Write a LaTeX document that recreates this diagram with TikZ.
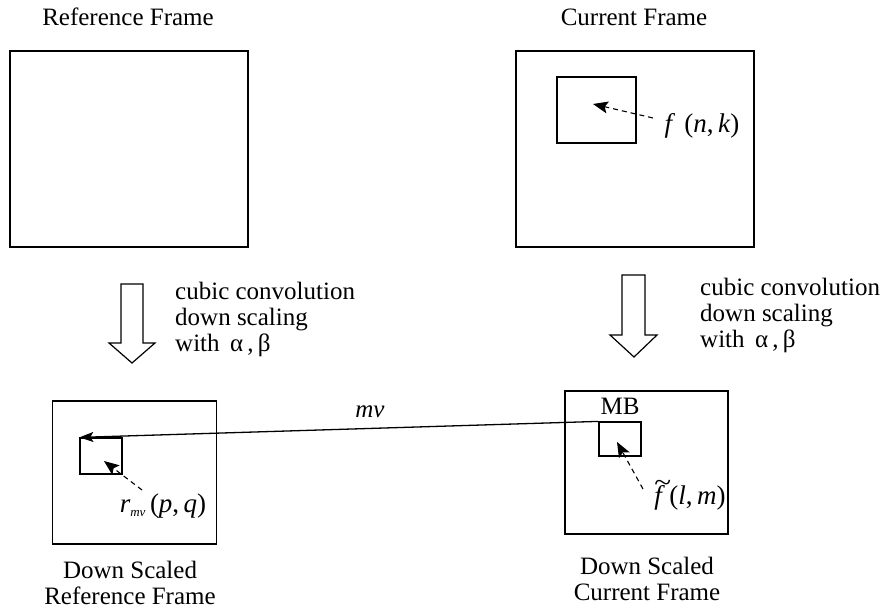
\documentclass[tikz,border=0pt]{standalone}
\usepackage{fontspec}
\setmainfont{Liberation Serif}
\usetikzlibrary{arrows.meta}
\newcommand\tildedf{\rlap{\raisebox{0.47em}[0pt][0pt]{\kern0.0em\scalebox{1.15}[1]{\textasciitilde}}}\textit{f}}
\tikzset{
  frame/.style={draw, line width=1.2pt, inner sep=0pt, rectangle},
  lbl/.style={inner sep=0pt, font=\fontsize{25}{26}\selectfont},
  mlbl/.style={inner sep=0pt, font=\fontsize{27}{28}\selectfont},
  dashedarrow/.style={line width=1.1pt, dash pattern=on 5pt off 4pt, -{Stealth[length=15pt,width=12pt,inset=3pt]}},
  hollow/.style={draw, line width=1.2pt, fill=white, line join=miter},
}
\begin{document}
\begin{tikzpicture}[x=1pt,y=-1pt]
\useasboundingbox (0,0) rectangle (883,609);
% titles
\node[lbl] (tRF) at (128,17) {Reference Frame};
\node[lbl] (tCF) at (634,17) {Current Frame};
% top frames
\node[frame, minimum width=238pt, minimum height=196pt] (RF) at (129,149) {};
\node[frame, minimum width=238pt, minimum height=196pt] (CF) at (635,149) {};
\node[frame, minimum width=79pt, minimum height=66pt] (CB) at (596.5,110) {};
\node[mlbl] (fnk) at (702,126) {\textit{f}\,\,(\textit{n},\,\textit{k})};
\coordinate (fnkT) at (593,104);
\coordinate (fnkS) at (653,118);
\draw[dashedarrow] (fnkS) -- (fnkT);
% hollow arrows
\draw[hollow] (121,284) -- (143,284) -- (143,343) -- (155,343) -- (132,363) -- (109,343) -- (121,343) -- cycle;
\draw[hollow] (622,275) -- (645,275) -- (645,335) -- (657,335) -- (634,357) -- (610,335) -- (622,335) -- cycle;
% side texts
\node[lbl, anchor=west, align=left] (tL) at (175,319) {cubic convolution\\down scaling\\with \,α\,,\,β};
\node[lbl, anchor=west, align=left] (tR) at (700,315) {cubic convolution\\down scaling\\with \,α\,,\,β};
% down scaled frames
\node[frame, minimum width=164pt, minimum height=143pt] (DR) at (134.5,472.5) {};
\node[frame, minimum width=42pt, minimum height=36pt] (DRB) at (101,456) {};
\node[frame, minimum width=163pt, minimum height=143pt] (DC) at (646.5,462.5) {};
\node[frame, minimum width=42pt, minimum height=34pt] (DCB) at (620,439) {};
\node[lbl] (MB) at (620,406) {MB};
% labels inside
\node[mlbl] (rmv) at (163,506) {\textit{r}\raisebox{-0.35ex}{\fontsize{13}{13}\selectfont\itshape mv}\,(\textit{p},\,\textit{q})};
\node[mlbl] (flm) at (690,498) {\tildedf\,(\textit{l},\,\textit{m})};
\coordinate (rT) at (104,461);
\coordinate (fT) at (617,442);
\coordinate (rS) at (142,490);
\coordinate (fS) at (643,489);
\draw[dashedarrow] (rS) -- (rT);
\draw[dashedarrow] (fS) -- (fT);
% motion vector
\draw[line width=1.3pt, -{Stealth[length=14pt,width=10pt,inset=3pt]}] (DCB.north west) -- (DRB.north west);
\node[lbl] (mv) at (370,412) {\textit{mv}};
% bottom captions
\node[lbl, align=center] (cDR) at (130,583) {Down Scaled\\Reference Frame};
\node[lbl, align=center] (cDC) at (647,579) {Down Scaled\\Current Frame};
\end{tikzpicture}
\end{document}
